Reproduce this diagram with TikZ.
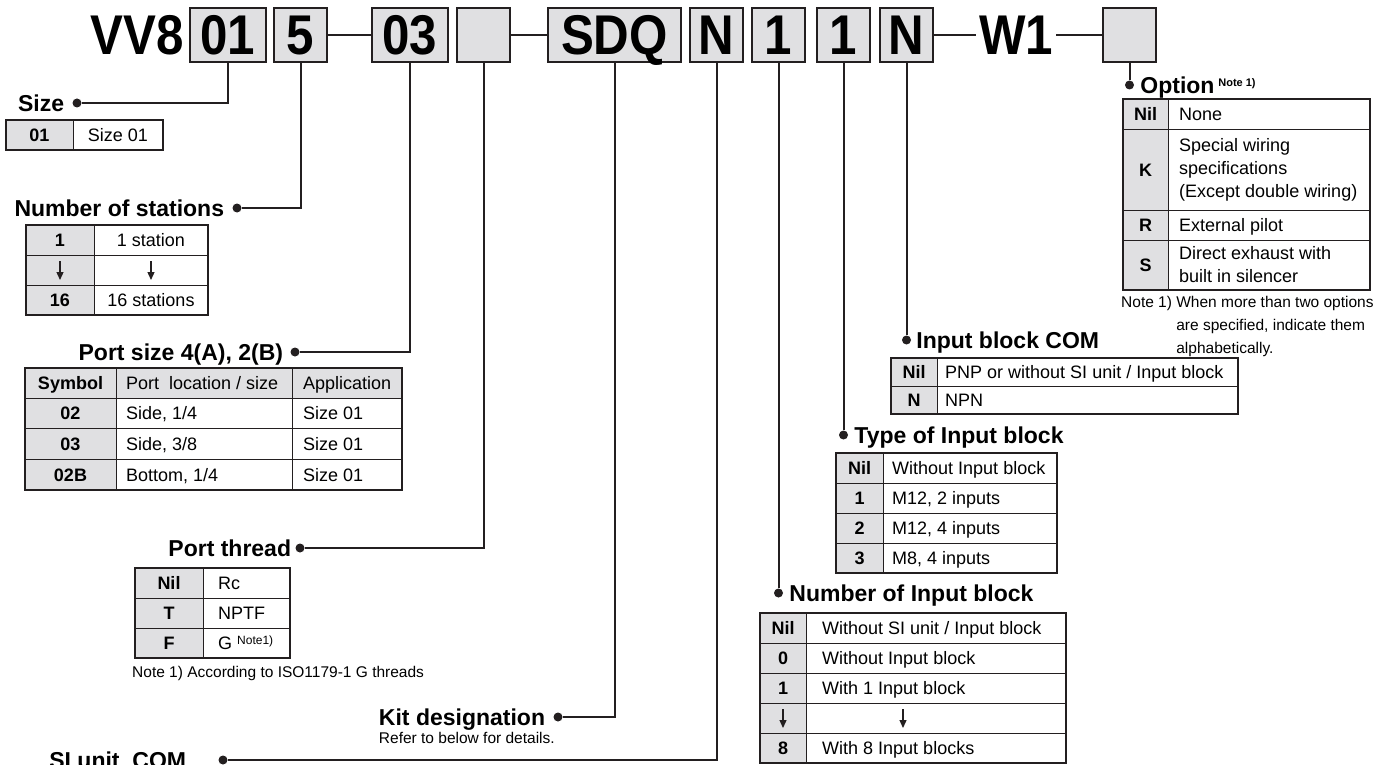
\documentclass[tikz,border=0pt]{standalone}
\usepackage{fontspec}
\setmainfont{Liberation Sans}
\newfontface\codeface{Liberation Sans Bold}[FakeStretch=0.88]
\usetikzlibrary{positioning,arrows.meta}
\definecolor{keygray}{RGB}{224,224,226}
\definecolor{ink}{RGB}{35,31,32}
\tikzset{
  code/.style={draw=ink, line width=2pt, fill=keygray, minimum height=54pt, minimum width=53pt,
    inner sep=0pt, text height=40pt, text depth=0pt, font=\codeface\fontsize{56}{56}\selectfont},
  lbl/.style={font=\fontsize{23}{26}\selectfont\bfseries, inner sep=0pt, text height=16.5pt, text depth=0pt},
  blob/.style={circle, fill=ink, inner sep=0pt, minimum size=9pt},
  lead/.style={draw=ink, line width=2pt},
  tline/.style={draw=ink, line width=1pt},
  tbox/.style={draw=ink, line width=1.4pt},
  key/.style={font=\fontsize{18}{23}\selectfont\bfseries, inner sep=0pt, text height=13pt, text depth=0pt},
  val/.style={font=\fontsize{18}{23}\selectfont, inner sep=0pt, text height=13pt, text depth=0pt, anchor=west},
  mval/.style={font=\fontsize{18}{23}\selectfont, inner sep=0pt, anchor=west, align=left},
  note/.style={font=\fontsize{15.5}{20}\selectfont, inner sep=0pt, anchor=west},
  dn/.style={-{Triangle[length=8pt,width=7pt]}, line width=1.3pt, draw=ink}
}
\begin{document}
\begin{tikzpicture}[x=1pt,y=-1pt]
\fill[white] (0,0) rectangle (1386,765);
\useasboundingbox (0,0) rectangle (1386,765);

% part number
\node[anchor=east, inner sep=0pt, text height=40pt, text depth=0pt, font=\codeface\fontsize{56}{56}\selectfont] (vv) at (184,35) {VV8};
\node[code, minimum width=76pt] (bsize) at (228,35) {01};
\node[code] (bsta) at (300.5,35) {5};
\node[code, minimum width=76pt] (bport) at (410,35) {03};
\node[code] (bthr) at (483.5,35) {};
\node[code, minimum width=133pt] (bkit) at (614.5,35) {SDQ};
\node[code] (bsi) at (716.5,35) {N};
\node[code] (bnum) at (778.5,35) {1};
\node[code] (btype) at (843.5,35) {1};
\node[code] (bcom) at (906.5,35) {N};
\node[inner sep=3pt, text height=40pt, text depth=0pt, font=\codeface\fontsize{56}{56}\selectfont] (w1) at (1016,35) {W1};
\node[code] (bopt) at (1129.5,35) {};
\draw[lead, line width=2.6pt] (bsta) -- (bport);
\draw[lead, line width=2.6pt] (bthr) -- (bkit);
\draw[lead, line width=2.6pt] (bcom) -- (w1);
\draw[lead, line width=2.6pt] (w1) -- (bopt);

% size
\node[blob] (dsize) at (77,103) {};
\node[lbl, left=8pt of dsize] (lsize) {Size};
\draw[lead] (bsize) |- (dsize);
\fill[keygray] (6,120) rectangle (73,150);
\draw[tbox] (6,120) rectangle (163,150);
\draw[tline] (73,120) -- (73,150);
\node[key] at (39.5,135) {01};
\node[val, anchor=center] at (118,135) {Size 01};

% stations
\node[blob] (dsta) at (237,208) {};
\node[lbl, left=8pt of dsta] (lsta) {Number of stations};
\draw[lead] (bsta) |- (dsta);
\fill[keygray] (26,225) rectangle (94,315);
\draw[tbox] (26,225) rectangle (208,315);
\draw[tline] (94,225) -- (94,315);
\foreach \y in {255,285} \draw[tline] (26,\y) -- (208,\y);
\node[key] at (60,240) {1};
\node[val, anchor=center] at (151,240) {1 station};
\draw[dn] (60,261) -- (60,280);
\draw[dn] (151,261) -- (151,280);
\node[key] at (60,300) {16};
\node[val, anchor=center] at (151,300) {16 stations};

% port size
\node[blob] (dport) at (295,352) {};
\node[lbl, left=7pt of dport] (lport) {Port size 4(A), 2(B)};
\draw[lead] (bport) |- (dport);
\fill[keygray] (25,368) rectangle (116,490) (116,368) rectangle (402,398);
\draw[tbox] (25,368) rectangle (402,490);
\draw[tline] (116,368) -- (116,490) (292,368) -- (292,490);
\foreach \y in {398,428,459} \draw[tline] (25,\y) -- (402,\y);
\node[key] at (70.5,383) {Symbol};
\node[val] at (126,383) {Port\ \ location / size};
\node[val] at (303,383) {Application};
\node[key] at (70.5,413) {02};
\node[val] at (126,413) {Side, 1/4};
\node[val] at (303,413) {Size 01};
\node[key] at (70.5,443.5) {03};
\node[val] at (126,443.5) {Side, 3/8};
\node[val] at (303,443.5) {Size 01};
\node[key] at (70.5,474.5) {02B};
\node[val] at (126,474.5) {Bottom, 1/4};
\node[val] at (303,474.5) {Size 01};

% port thread
\node[blob] (dthr) at (300,548) {};
\node[lbl, left=4pt of dthr] (lthr) {Port thread};
\draw[lead] (bthr) |- (dthr);
\fill[keygray] (135,568) rectangle (203,658);
\draw[tbox] (135,568) rectangle (290,658);
\draw[tline] (203,568) -- (203,658);
\foreach \y in {598,628} \draw[tline] (135,\y) -- (290,\y);
\node[key] at (169,583) {Nil};
\node[val] at (218,583) {Rc};
\node[key] at (169,613) {T};
\node[val] at (218,613) {NPTF};
\node[key] at (169,643) {F};
\node[val] at (218,643) {G \raisebox{5pt}{\fontsize{12}{12}\selectfont Note1)}};
\node[note] at (132,673) {Note 1) According to ISO1179-1 G threads};

% kit
\node[blob] (dkit) at (558,717) {};
\node[lbl, left=8pt of dkit] (lkit) {Kit designation};
\draw[lead] (bkit) |- (dkit);
\node[note, anchor=north west] at ([yshift=-7pt]lkit.south west) {Refer to below for details.};

% SI unit COM
\node[blob] (dsi) at (223,760) {};
\node[lbl, left=32pt of dsi] (lsi) {SI unit\ \ COM};
\draw[lead] (bsi) |- (dsi);

% option
\node[blob] (dopt) at (1129.5,85) {};
\node[lbl, right=6pt of dopt] (lopt) {Option\,\raisebox{7pt}{\fontsize{11}{11}\selectfont\bfseries Note 1)}};
\draw[lead] (bopt) -- (dopt);
\fill[keygray] (1123,99) rectangle (1168,290);
\draw[tbox] (1123,99) rectangle (1370,290);
\draw[tline] (1168,99) -- (1168,290);
\foreach \y in {130,210,240} \draw[tline] (1123,\y) -- (1370,\y);
\node[key] at (1145.5,114.5) {Nil};
\node[val] at (1179,114.5) {None};
\node[key] at (1145.5,170) {K};
\node[mval] at (1179,170) {Special wiring\\specifications\\(Except double wiring)};
\node[key] at (1145.5,225) {R};
\node[val] at (1179,225) {External pilot};
\node[key] at (1145.5,265) {S};
\node[mval] at (1179,265) {Direct exhaust with\\built in silencer};
\node[anchor=north west, inner sep=0pt, font=\fontsize{15.5}{23}\selectfont] at (1121,291)
  {\begin{tabular}{@{}l@{ }l@{}}Note 1) & When more than two options\\ & are specified, indicate them\\ & alphabetically.\end{tabular}};

% input block COM
\node[blob] (dcom) at (906.5,340) {};
\node[lbl, right=5pt of dcom] (lcom) {Input block COM};
\draw[lead] (bcom) -- (dcom);
\fill[keygray] (891,358) rectangle (937,414);
\draw[tbox] (891,358) rectangle (1238,414);
\draw[tline] (937,358) -- (937,414) (891,386) -- (1238,386);
\node[key] at (914,372) {Nil};
\node[val] at (945,372) {PNP or without SI unit / Input block};
\node[key] at (914,400) {N};
\node[val] at (945,400) {NPN};

% type of input block
\node[blob] (dtype) at (843.5,435) {};
\node[lbl, right=6pt of dtype] (ltype) {Type of Input block};
\draw[lead] (btype) -- (dtype);
\fill[keygray] (836,453) rectangle (883,573);
\draw[tbox] (836,453) rectangle (1057,573);
\draw[tline] (883,453) -- (883,573);
\foreach \y in {483,513,543} \draw[tline] (836,\y) -- (1057,\y);
\node[key] at (859.5,468) {Nil};
\node[val] at (892,468) {Without Input block};
\node[key] at (859.5,498) {1};
\node[val] at (892,498) {M12, 2 inputs};
\node[key] at (859.5,528) {2};
\node[val] at (892,528) {M12, 4 inputs};
\node[key] at (859.5,558) {3};
\node[val] at (892,558) {M8, 4 inputs};

% number of input block
\node[blob] (dnum) at (778.5,593) {};
\node[lbl, right=6pt of dnum] (lnum) {Number of Input block};
\draw[lead] (bnum) -- (dnum);
\fill[keygray] (760,613) rectangle (806,763);
\draw[tbox] (760,613) rectangle (1066,763);
\draw[tline] (806,613) -- (806,763);
\foreach \y in {643,673,703,733} \draw[tline] (760,\y) -- (1066,\y);
\node[key] at (783,628) {Nil};
\node[val] at (822,628) {Without SI unit / Input block};
\node[key] at (783,658) {0};
\node[val] at (822,658) {Without Input block};
\node[key] at (783,688) {1};
\node[val] at (822,688) {With 1 Input block};
\draw[dn] (783,709) -- (783,728);
\draw[dn] (903,709) -- (903,728);
\node[key] at (783,748) {8};
\node[val] at (822,748) {With 8 Input blocks};
\end{tikzpicture}
\end{document}
